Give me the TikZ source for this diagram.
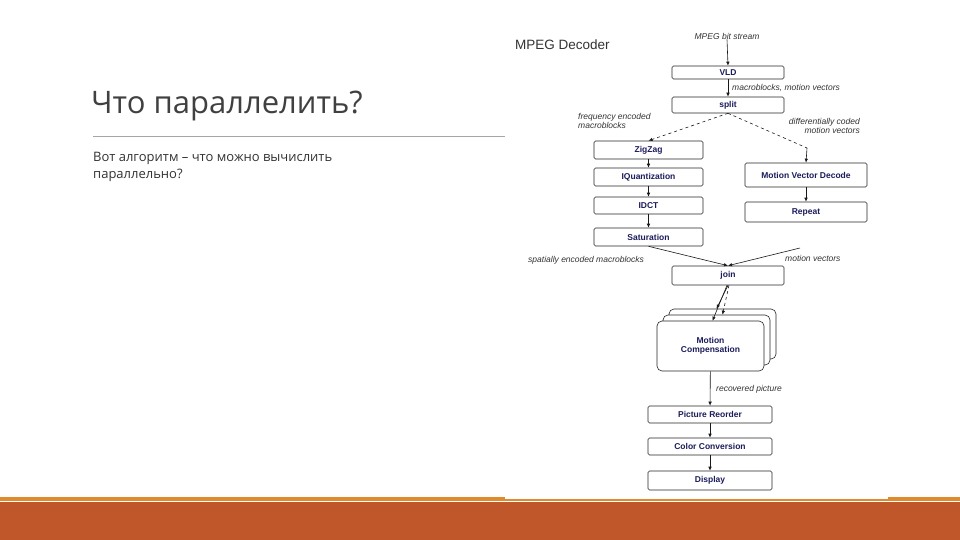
\documentclass[tikz,border=0pt]{standalone}
\usepackage{fontspec}
\setmainfont{Open Sans}
\newfontfamily\arialf{Liberation Sans}
\usetikzlibrary{arrows.meta}
\definecolor{navy}{HTML}{1C1C5C}
\definecolor{bandc}{HTML}{C0572A}
\definecolor{linec}{HTML}{E08A2C}
\begin{document}
\begin{tikzpicture}[x=1pt,y=-1pt,
  blk/.style={draw=black!85,line width=0.6pt,rounded corners=1.5pt,fill=white,font=\arialf\bfseries\fontsize{8.5}{9.5}\selectfont,text=navy,inner sep=0pt},
  lab/.style={font=\arialf\itshape\fontsize{8.5}{8.5}\selectfont,text=black!80,inner sep=0pt},
  ar/.style={-{Latex[length=4pt,width=3.5pt]},black!90,line width=0.6pt},
  dar/.style={ar,dashed}]
\useasboundingbox (0,0) rectangle (960,540);
\fill[white] (0,0) rectangle (960,540);
\fill[linec] (0,497) rectangle (960,501);
\fill[bandc] (0,502) rectangle (960,540);
\fill[white] (505,20) rectangle (888,499);
% title
\node[anchor=west,text=black!75,font=\fontsize{31}{32}\selectfont,inner sep=0pt] (title) at (91,106) {Что параллелить?};
\draw[black!35,line width=0.6pt] (93,136) -- (505,136);
\node[anchor=north west,text=black!80,font=\fontsize{13}{17}\selectfont,align=left,inner sep=0pt] (body) at (93,152) {Вот алгоритм -- что можно вычислить\\параллельно?};
% diagram
\node[anchor=west,font=\arialf\fontsize{13.5}{14}\selectfont,text=black!80,inner sep=0pt] (mpeg) at (515,45) {MPEG Decoder};
\node[lab] (bits) at (727,36) {MPEG bit stream};
\node[blk,minimum width=112pt,minimum height=13pt] (vld) at (728,72.5) {VLD};
\node[blk,minimum width=112pt,minimum height=16pt] (split) at (728,105) {split};
\node[blk,minimum width=109pt,minimum height=18pt] (zz) at (648.5,150) {ZigZag};
\node[blk,minimum width=109pt,minimum height=18pt] (iq) at (648.5,177) {IQuantization};
\node[blk,minimum width=109pt,minimum height=17pt] (idct) at (648.5,205.5) {IDCT};
\node[blk,minimum width=109pt,minimum height=18pt] (sat) at (648.5,237) {Saturation};
\node[blk,minimum width=122pt,minimum height=24pt] (mvd) at (806,175) {Motion Vector Decode};
\node[blk,minimum width=122pt,minimum height=20pt] (rep) at (806,212) {Repeat};
\node[blk,minimum width=112pt,minimum height=19pt] (join) at (728,275.5) {join};
\node[blk,minimum width=107pt,minimum height=50pt,rounded corners=5pt] (mc3) at (722.5,334) {};
\node[blk,minimum width=107pt,minimum height=50pt,rounded corners=5pt] (mc2) at (716.5,340) {};
\node[blk,minimum width=107pt,minimum height=50pt,rounded corners=5pt,align=center] (mc) at (710.5,346) {Motion\\Compensation};
\node[blk,minimum width=124pt,minimum height=17pt] (pr) at (710,414.5) {Picture Reorder};
\node[blk,minimum width=124pt,minimum height=17pt] (cc) at (710,446.5) {Color Conversion};
\node[blk,minimum width=124pt,minimum height=19pt] (disp) at (710,480.5) {Display};
% labels
\node[lab,anchor=west] (l1) at (732,88) {macroblocks, motion vectors};
\node[lab,anchor=west,align=left] (l2) at (578,121) {frequency encoded\\macroblocks};
\node[lab,anchor=east,align=right] (l3) at (860,126) {differentially coded\\motion vectors};
\node[lab,anchor=west] (l4) at (528,260) {spatially encoded macroblocks};
\node[lab,anchor=west] (l5) at (785,258) {motion vectors};
\node[lab,anchor=west] (l6) at (716,389) {recovered picture};
\coordinate (mvin) at (800,248);
\coordinate (bend) at (807,148);
% arrows
\draw[ar] (bits.south) -- (vld.north);
\draw[ar] (vld) -- (split);
\draw[dar] (split.south) -- (zz.north);
\draw[dashed,black!90,line width=0.6pt] (split.south) -- (bend);
\draw[ar] (bend) -- (mvd.north);
\draw[ar] (zz) -- (iq);
\draw[ar] (iq) -- (idct);
\draw[ar] (idct) -- (sat);
\draw[ar] (mvd) -- (rep);
\draw[ar] (sat.south) -- (join.north);
\draw[ar] (mvin) -- (join.north);
\draw[ar] ([xshift=-1pt]join.south) -- ([xshift=2pt]mc.north);
\draw[dar] ([xshift=1pt]join.south) -- ([xshift=6pt]mc2.north);
\draw[ar] ([xshift=0pt]join.south) -- ([xshift=-6pt]mc3.north);
\draw[ar] (mc) -- (pr);
\draw[ar] (pr) -- (cc);
\draw[ar] (cc) -- (disp);
\end{tikzpicture}
\end{document}
